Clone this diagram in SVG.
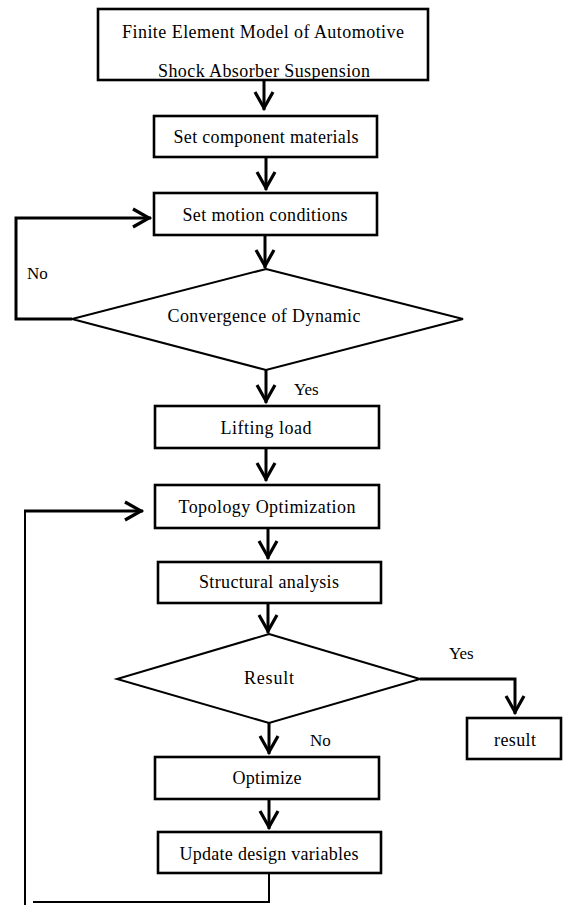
<svg xmlns="http://www.w3.org/2000/svg" width="563" height="905" viewBox="0 0 563 905">
<style>
.box{fill:#fff;stroke:#000;stroke-width:2.6}
.dia{fill:#fff;stroke:#000;stroke-width:2}
.t{font-family:"Liberation Serif","Times New Roman",serif;font-size:18px;fill:#000;text-anchor:middle}
.lbl{font-family:"Liberation Serif","Times New Roman",serif;font-size:17px;fill:#000}
.c{fill:none;stroke:#000;stroke-width:3}
.thin{fill:none;stroke:#000;stroke-width:2}
</style>
<defs>
<marker id="arr" markerUnits="userSpaceOnUse" viewBox="-22 -12 24 24" refX="0" refY="0" markerWidth="24" markerHeight="24" orient="auto" overflow="visible">
<path d="M-18,-9 L-2,0 L-18,9" fill="none" stroke="#000" stroke-width="3.2"/>
</marker>
</defs>
<g id="connectors">
<line class="c" x1="264" y1="81" x2="264" y2="110" marker-end="url(#arr)"/>
<line class="c" x1="266" y1="157" x2="266" y2="190" marker-end="url(#arr)"/>
<line class="c" x1="265" y1="235" x2="265" y2="268" marker-end="url(#arr)"/>
<polyline class="c" points="72,319 16,319 16,218 151,218" marker-end="url(#arr)"/>
<line class="c" x1="266" y1="370" x2="266" y2="403" marker-end="url(#arr)"/>
<line class="c" x1="266" y1="448" x2="266" y2="481" marker-end="url(#arr)"/>
<line class="c" x1="268" y1="528" x2="268" y2="559" marker-end="url(#arr)"/>
<line class="c" x1="268" y1="603" x2="268" y2="633" marker-end="url(#arr)"/>
<polyline class="c" points="420,679 515,679 515,714" marker-end="url(#arr)"/>
<line class="c" x1="269" y1="723" x2="269" y2="754" marker-end="url(#arr)"/>
<line class="c" x1="269" y1="799" x2="269" y2="829" marker-end="url(#arr)"/>
<polyline class="thin" points="269,873 269,902 33,902"/>
<line class="thin" x1="25" y1="905" x2="25" y2="511"/>
<line class="c" x1="24" y1="511" x2="143" y2="511" marker-end="url(#arr)"/>
</g>
<g id="n1"><rect class="box" x="98" y="9" width="330" height="71"/>
<text class="t" x="263" y="38" textLength="282" lengthAdjust="spacing">Finite Element Model of Automotive</text>
<text class="t" x="264" y="77" textLength="212" lengthAdjust="spacing">Shock Absorber Suspension</text></g>
<g id="n2"><rect class="box" x="154" y="116" width="223" height="41"/>
<text class="t" x="266" y="143" textLength="185" lengthAdjust="spacing">Set component materials</text></g>
<g id="n3"><rect class="box" x="154" y="193" width="223" height="42"/>
<text class="t" x="265" y="221" textLength="165" lengthAdjust="spacing">Set motion conditions</text></g>
<g id="d1"><polygon class="dia" points="266,269 463,319 266,370 72,319"/>
<text class="t" x="264" y="322" textLength="193" lengthAdjust="spacing">Convergence of Dynamic</text></g>
<g id="n4"><rect class="box" x="155" y="406" width="224" height="42"/>
<text class="t" x="266" y="434" textLength="91" lengthAdjust="spacing">Lifting load</text></g>
<g id="n5"><rect class="box" x="155" y="485" width="224" height="43"/>
<text class="t" x="267" y="513" textLength="177" lengthAdjust="spacing">Topology Optimization</text></g>
<g id="n6"><rect class="box" x="158" y="562" width="223" height="41"/>
<text class="t" x="269" y="588" textLength="140" lengthAdjust="spacing">Structural analysis</text></g>
<g id="d2"><polygon class="dia" points="269,634 420,679 269,723 117,679"/>
<text class="t" x="269" y="684" textLength="50" lengthAdjust="spacing">Result</text></g>
<g id="n7"><rect class="box" x="467" y="718" width="94" height="41"/>
<text class="t" x="515" y="746" textLength="42" lengthAdjust="spacing">result</text></g>
<g id="n8"><rect class="box" x="155" y="757" width="224" height="42"/>
<text class="t" x="267" y="784" textLength="69" lengthAdjust="spacing">Optimize</text></g>
<g id="n9"><rect class="box" x="158" y="832" width="223" height="41"/>
<text class="t" x="269" y="860" textLength="179" lengthAdjust="spacing">Update design variables</text></g>
<g id="labels">
<text class="lbl" x="27" y="279">No</text>
<text class="lbl" x="294" y="395">Yes</text>
<text class="lbl" x="449" y="659">Yes</text>
<text class="lbl" x="310" y="746">No</text>
</g>
</svg>
